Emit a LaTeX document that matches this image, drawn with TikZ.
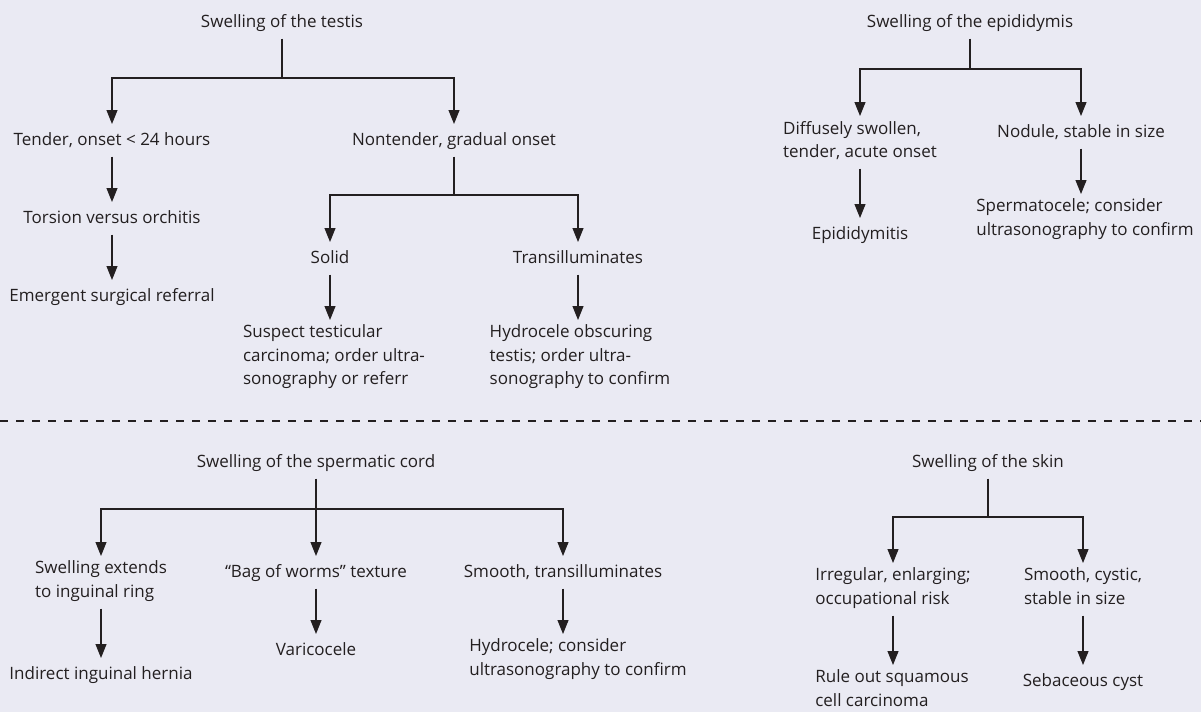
\documentclass[tikz,border=0pt]{standalone}
\usepackage{fontspec}
\setmainfont{Open Sans}
\usetikzlibrary{arrows.meta}
\definecolor{bgcolor}{RGB}{234,234,243}
\definecolor{inkcolor}{RGB}{35,31,32}
\begin{document}
\begin{tikzpicture}[x = 1pt, y = -1pt, line width = 1.1pt, draw = inkcolor,
  box/.style = {inner sep = 0pt, anchor = north, align = left, text = inkcolor, font = {\fontsize{17}{23.5}\selectfont}, execute at begin node = \strut, execute at end node = \strut},
  arr/.style = {-{Triangle[width = 11pt, length = 14pt]}, shorten > = 4.5pt},
  startgap/.style = {shorten < = 3.5pt},
  divider/.style = {dash pattern = on 8pt off 8pt, line width = 1.2pt}]
\pgfmathsetmacro\W{1201}
\pgfmathsetmacro\H{712}
\useasboundingbox[fill = bgcolor] (0,0) rectangle (\W,\H);
\node[box] (testis) at (282,10.5) {Swelling of the testis};
\node[box] (tender) at (112,128.5) {Tender, onset < 24 hours};
\node[box] (nontender) at (454,128.5) {Nontender, gradual onset};
\node[box] (torsion) at (112,206.5) {Torsion versus orchitis};
\node[box] (emergent) at (112,284.5) {Emergent surgical referral};
\node[box] (solid) at (330,246.5) {Solid};
\node[box] (transill) at (578,246.5) {Transilluminates};
\node[box] (suspect) at (334,324.5) {Suspect testicular\\carcinoma; order ultra-\\sonography or referr};
\node[box] (obscure) at (580,324.5) {Hydrocele obscuring\\testis; order ultra-\\sonography to confirm};
\coordinate (testisfork) at (282,78);
\coordinate (nonfork) at (454,195);
\draw[startgap] (testis) -- (testisfork);
\draw[arr] (testisfork) -| (tender);
\draw[arr] (testisfork) -| (nontender);
\draw[arr, startgap] (tender) -- (torsion);
\draw[arr, startgap] (torsion) -- (emergent);
\draw[startgap] (nontender) -- (nonfork);
\draw[arr] (nonfork) -| (solid);
\draw[arr] (nonfork) -| (transill);
\draw[arr, startgap] (solid) -- (solid |- suspect.north);
\draw[arr, startgap] (transill) -- (transill |- obscure.north);
\node[box] (epid) at (970,10.5) {Swelling of the epididymis};
\node[box] (diffuse) at (860,120.5) {Diffusely swollen,\\tender, acute onset};
\node[box] (nodule) at (1081,120.5) {Nodule, stable in size};
\node[box] (epiditis) at (860,222.5) {Epididymitis};
\node[box] (spermato) at (1085,198.5) {Spermatocele; consider\\ultrasonography to confirm};
\coordinate (epidfork) at (970,69);
\draw[startgap] (epid) -- (epidfork);
\draw[arr] (epidfork) -| (diffuse);
\draw[arr] (epidfork) -| (nodule);
\draw[arr, startgap] (diffuse) -- (epiditis);
\draw[arr, startgap] (nodule) -- (nodule |- spermato.north);
\coordinate (divleft) at (0,421);
\coordinate (divright) at (\W,421);
\draw[divider] (divleft) -- (divright);
\node[box] (cord) at (316,450.5) {Swelling of the spermatic cord};
\node[box] (extends) at (101,560.5) {Swelling extends\\to inguinal ring};
\node[box] (worms) at (316,560.5) {“Bag of worms” texture};
\node[box] (smooth) at (563,560.5) {Smooth, transilluminates};
\node[box] (hernia) at (101,662.5) {Indirect inguinal hernia};
\node[box] (varico) at (316,638.5) {Varicocele};
\node[box] (hydro) at (578,638.5) {Hydrocele; consider\\ultrasonography to confirm};
\coordinate (cordfork) at (316,509);
\draw[arr, startgap] (cord) -- (worms);
\draw[arr] (cordfork) -| (extends);
\draw[arr] (cordfork) -| (smooth);
\draw[arr, startgap] (extends) -- (hernia);
\draw[arr, startgap] (worms) -- (varico);
\draw[arr, startgap] (smooth) -- (smooth |- hydro.north);
\node[box] (skin) at (988,450.5) {Swelling of the skin};
\node[box] (irregular) at (893,567.5) {Irregular, enlarging;\\occupational risk};
\node[box] (cystic) at (1083,567.5) {Smooth, cystic,\\stable in size};
\node[box] (squamous) at (892,669.5) {Rule out squamous\\cell carcinoma};
\node[box] (sebaceous) at (1083,669.5) {Sebaceous cyst};
\coordinate (skinfork) at (988,517);
\draw[startgap] (skin) -- (skinfork);
\draw[arr] (skinfork) -| (irregular);
\draw[arr] (skinfork) -| (cystic);
\draw[arr, startgap] (irregular) -- (irregular |- squamous.north);
\draw[arr, startgap] (cystic) -- (sebaceous);
\end{tikzpicture}
\end{document}
